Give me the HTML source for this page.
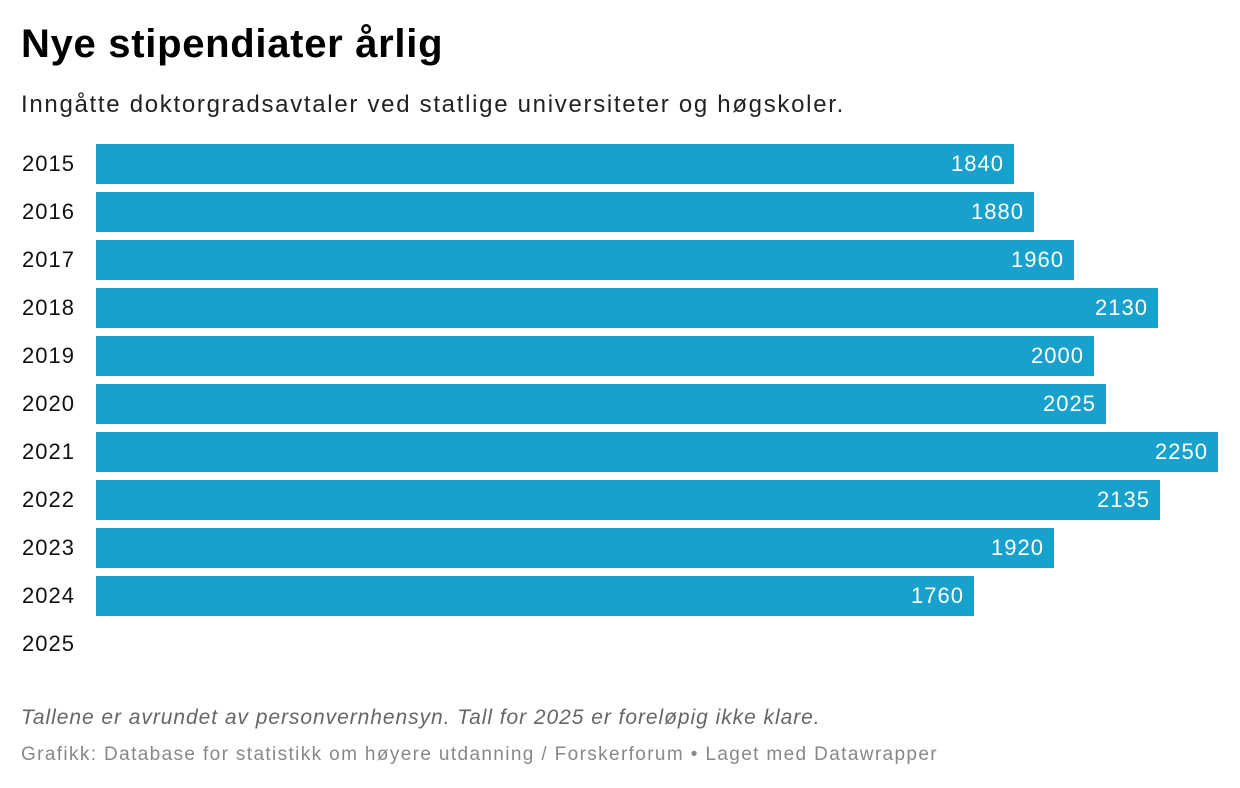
<!DOCTYPE html>
<html><head><meta charset="utf-8"><style>
body{margin:0;width:1240px;height:788px;background:#fff;font-family:"Liberation Sans",Arial,sans-serif;position:relative;overflow:hidden}
.t{position:absolute;left:21px;top:22px;font-size:40px;font-weight:bold;color:#000;letter-spacing:0.7px}
.s{position:absolute;left:21px;top:91px;font-size:24px;color:#222;letter-spacing:1.7px}
.y{position:absolute;left:22px;font-size:22px;color:#111;line-height:40px;letter-spacing:1px}
.b{position:absolute;left:96px;height:40px;background:#18a1cd;color:#fff;font-size:22px;line-height:40px;text-align:right;box-sizing:border-box;padding-right:10px;letter-spacing:1px}
.n{position:absolute;left:21px;top:706px;font-size:21px;font-style:italic;color:#666;letter-spacing:0.95px}
.c{position:absolute;left:21px;top:744px;font-size:19px;color:#888;letter-spacing:1.37px}
</style></head><body>
<div class="t">Nye stipendiater årlig</div>
<div class="s">Inngåtte doktorgradsavtaler ved statlige universiteter og høgskoler.</div>

<div class="y" style="top:144px">2015</div><div class="b" style="top:144px;width:918px">1840</div>
<div class="y" style="top:192px">2016</div><div class="b" style="top:192px;width:938px">1880</div>
<div class="y" style="top:240px">2017</div><div class="b" style="top:240px;width:978px">1960</div>
<div class="y" style="top:288px">2018</div><div class="b" style="top:288px;width:1062px">2130</div>
<div class="y" style="top:336px">2019</div><div class="b" style="top:336px;width:998px">2000</div>
<div class="y" style="top:384px">2020</div><div class="b" style="top:384px;width:1010px">2025</div>
<div class="y" style="top:432px">2021</div><div class="b" style="top:432px;width:1122px">2250</div>
<div class="y" style="top:480px">2022</div><div class="b" style="top:480px;width:1064px">2135</div>
<div class="y" style="top:528px">2023</div><div class="b" style="top:528px;width:958px">1920</div>
<div class="y" style="top:576px">2024</div><div class="b" style="top:576px;width:878px">1760</div>
<div class="y" style="top:624px">2025</div>

<div class="n">Tallene er avrundet av personvernhensyn. Tall for 2025 er foreløpig ikke klare.</div>
<div class="c">Grafikk: Database for statistikk om høyere utdanning / Forskerforum • Laget med Datawrapper</div>
</body></html>
